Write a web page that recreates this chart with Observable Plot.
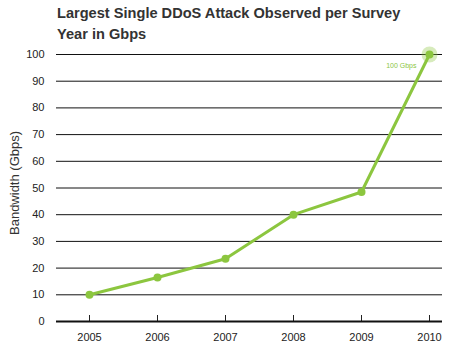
<!DOCTYPE html>
<html>
<head>
<meta charset="utf-8">
<script src="https://cdn.jsdelivr.net/npm/d3@7"></script>
<script src="https://cdn.jsdelivr.net/npm/@observablehq/plot@0.6"></script>
<style>
  html, body { margin: 0; padding: 0; background: #fff; }
  body { width: 458px; height: 349px; overflow: hidden; font-family: "Liberation Sans", Arial, sans-serif; }
  #title { margin: 0; padding: 3px 0 0 57px; font-size: 14.6px; font-weight: bold; color: #333; line-height: 21px; height: 41px; }
</style>
</head>
<body>
<div id="title">Largest Single DDoS Attack Observed per Survey<br>Year in Gbps</div>
<div id="chart"></div>
<script>
const years = [2005, 2006, 2007, 2008, 2009, 2010];
const bandwidth = [10, 16.5, 23.5, 40, 48.5, 100];
const yTicks = [0, 10, 20, 30, 40, 50, 60, 70, 80, 90, 100];
const annotationText = ["100 Gbps"];
const yLabel = ["Bandwidth (Gbps)"];

const data = years.map((y, i) => ({year: y, gbps: bandwidth[i]}));
const last = [data[data.length - 1]];
const green = "#8cc63f";

const chart = Plot.plot({
  width: 458,
  height: 305,
  marginLeft: 56,
  marginRight: 16,
  marginTop: 10,
  marginBottom: 28,
  style: {fontFamily: "Liberation Sans, Arial, sans-serif", fontSize: "11px", color: "#222", background: "#fff"},
  x: {domain: [2005, 2010], range: [89, 429]},
  y: {domain: [0, 100]},
  marks: [
    Plot.ruleY(yTicks.filter(d => d > 0), {stroke: "#111", strokeWidth: 1}),
    Plot.axisY({ticks: yTicks, tickSize: 0, tickPadding: 12, fontSize: 11, label: null}),
    Plot.text(yLabel, {frameAnchor: "left", rotate: -90, dx: -42, dy: 47, fontSize: 13, fill: "#333"}),
    Plot.axisX({ticks: years, tickSize: 6, dy: -6, text: null, label: null, strokeWidth: 1}),
    Plot.axisX({ticks: years, tickSize: 0, tickPadding: 12, tickFormat: d => String(d), label: null, fontSize: 11}),
    Plot.ruleX([0], {x: () => null, frameAnchor: "left", stroke: "#111", strokeWidth: 2}),
    Plot.ruleY([0], {stroke: "#111", strokeWidth: 2}),
    Plot.dot(last, {x: "year", y: "gbps", r: 8, fill: green, fillOpacity: 0.35, stroke: "none"}),
    Plot.line(data, {x: "year", y: "gbps", stroke: green, strokeWidth: 3}),
    Plot.dot(data, {x: "year", y: "gbps", r: 4, fill: green, stroke: "none"}),
    Plot.text(last, {x: "year", y: "gbps", text: () => annotationText[0], dx: -13, dy: 11, textAnchor: "end", fill: green, fontSize: 7})
  ]
});
document.getElementById("chart").appendChild(chart);
</script>
</body>
</html>
